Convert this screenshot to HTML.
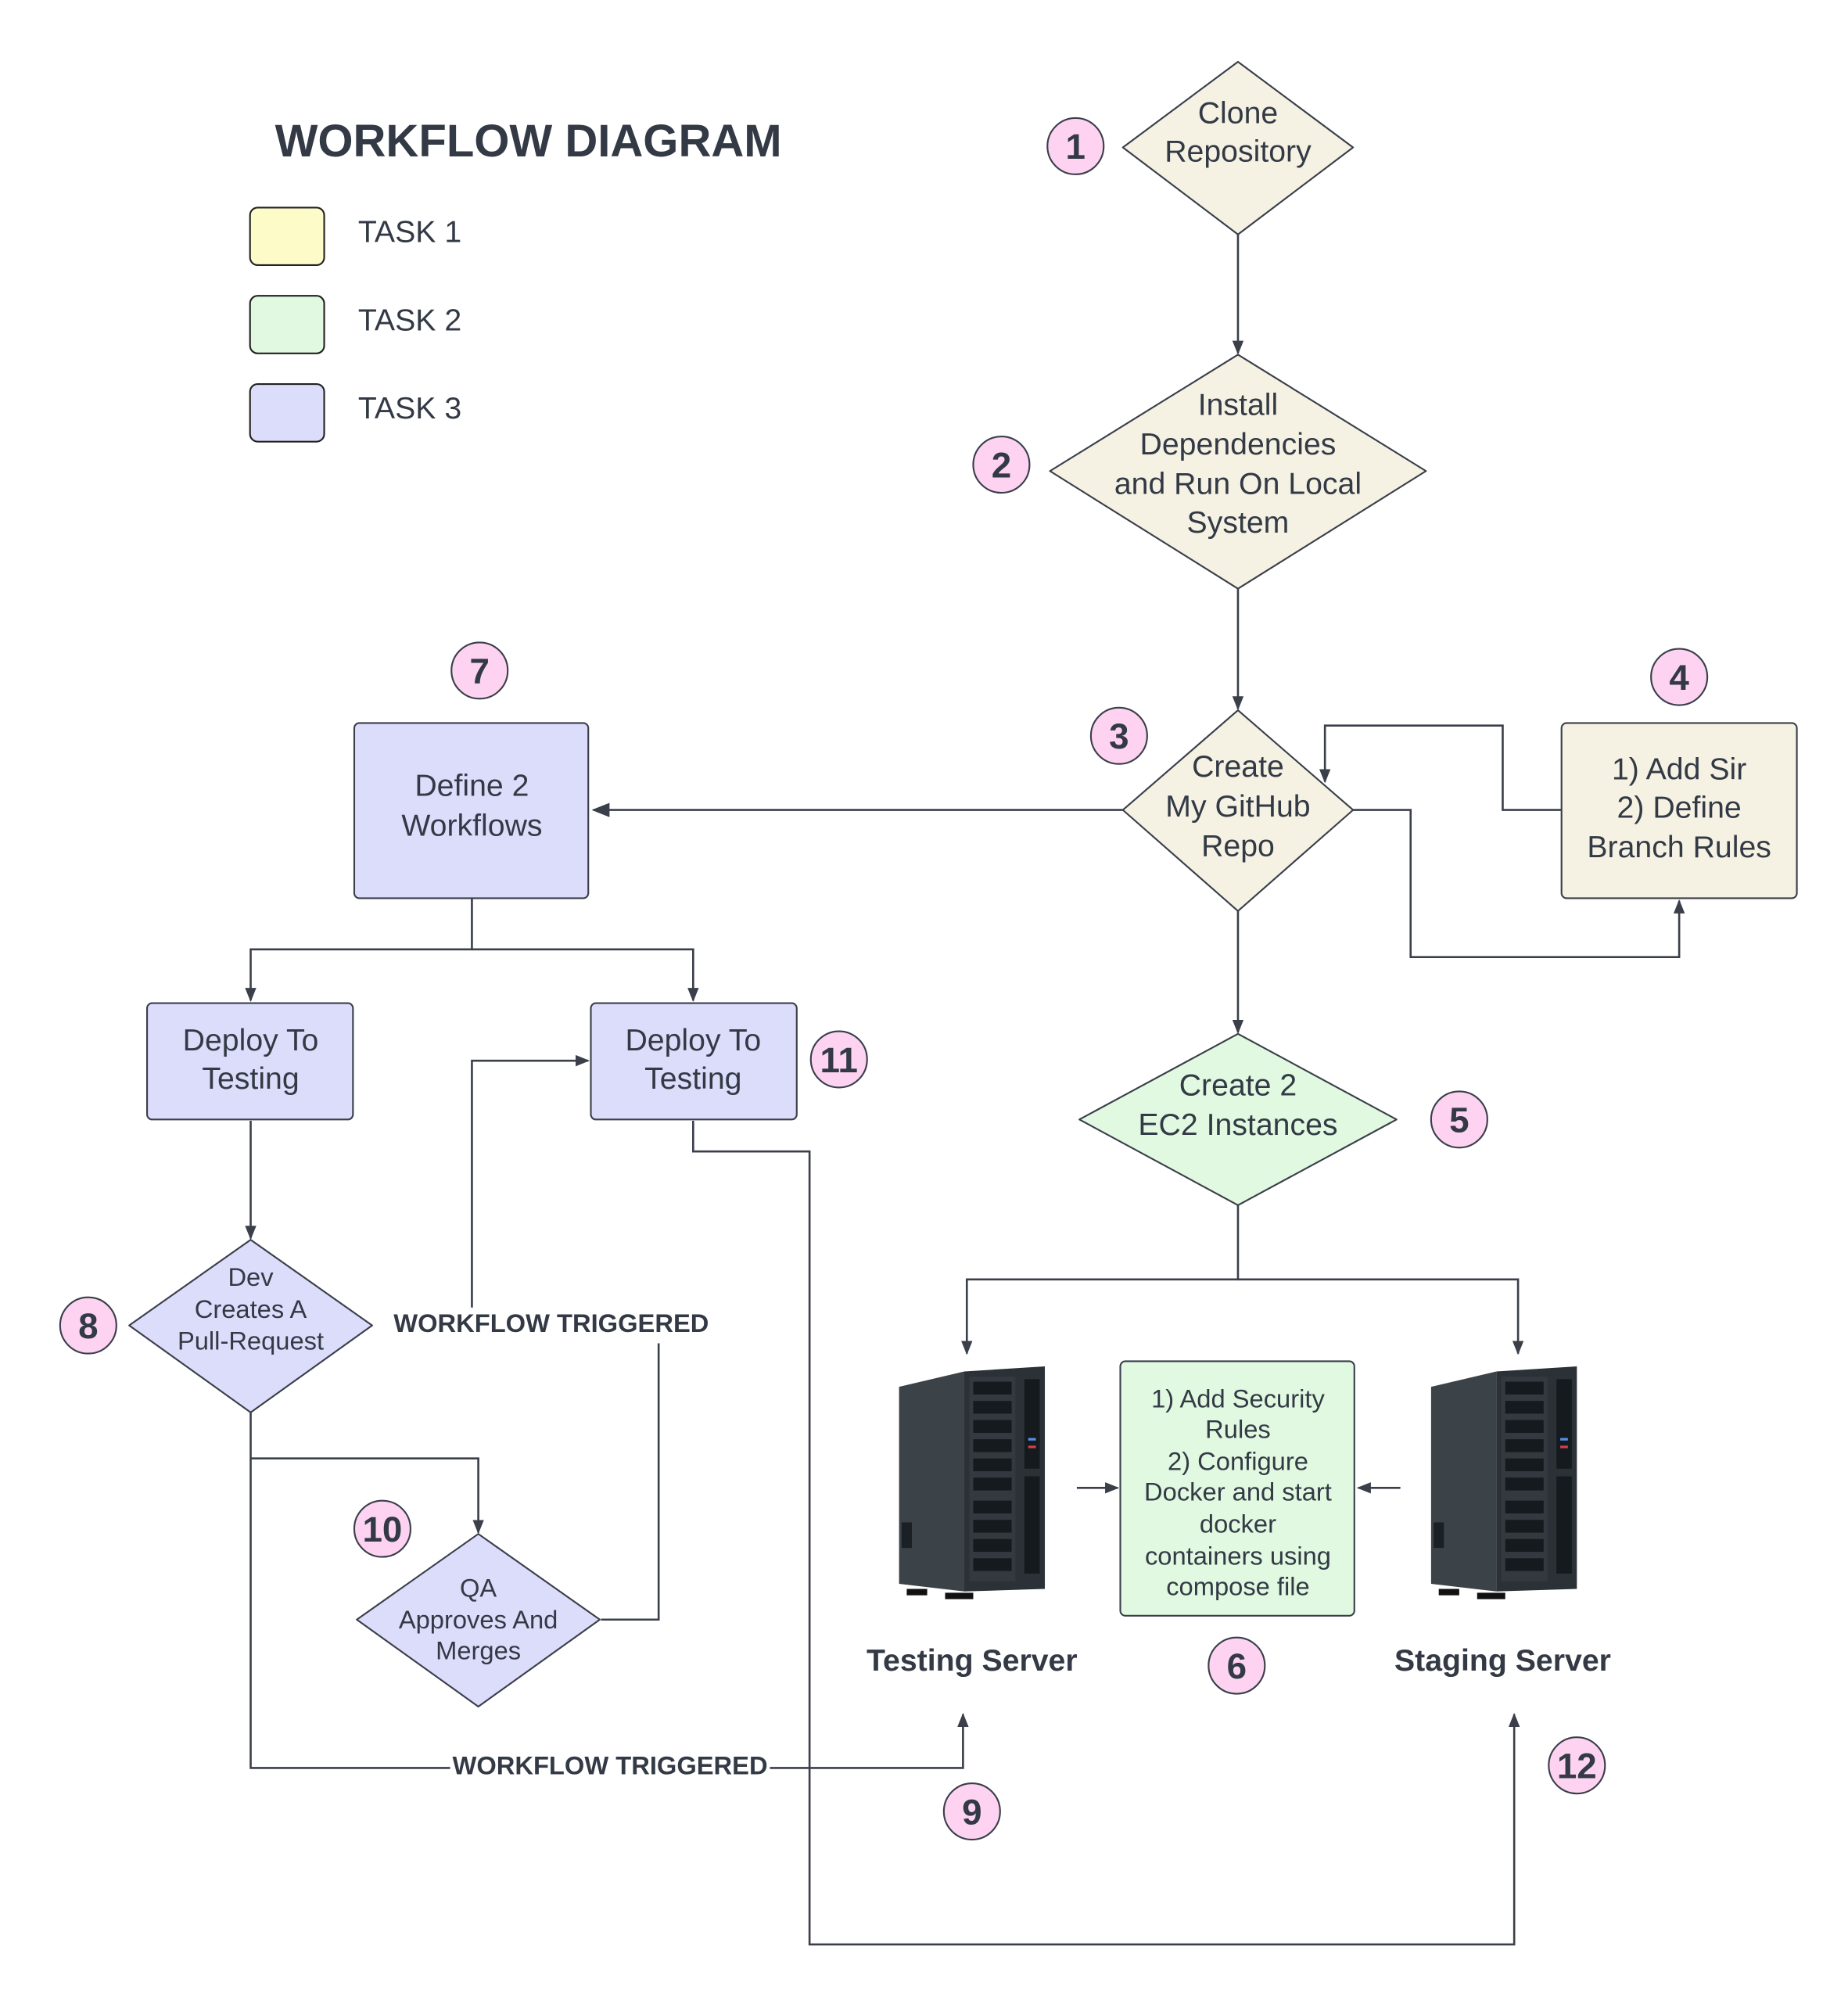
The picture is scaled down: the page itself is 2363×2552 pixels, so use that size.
<!DOCTYPE html>
<html><head><meta charset="utf-8"><style>
html,body{margin:0;padding:0;background:#fff}
svg{display:block}
text{font-family:"Liberation Sans",sans-serif;fill:#333a45}
</style></head><body>
<svg width="2363" height="2552" viewBox="0 0 1445 1560" xmlns="http://www.w3.org/2000/svg">
<defs>
<marker id="a" viewBox="0 0 10 10" refX="9" refY="5" markerWidth="11" markerHeight="11" orient="auto-start-reverse" markerUnits="userSpaceOnUse"><path d="M0,1 L10,5 L0,9 z" fill="#3a3f4a"/></marker>
<marker id="b" viewBox="0 0 10 10" refX="9" refY="5" markerWidth="14" markerHeight="14" orient="auto" markerUnits="userSpaceOnUse"><path d="M0,1 L10,5 L0,9 z" fill="#3a3f4a"/></marker>
<g id="srv">
<rect x="0" y="0" width="116" height="184" fill="#fff"/>
<polygon points="4,18 55,6 55,178 4,172" fill="#3b4349"/>
<polygon points="55,6 118,2 118,176 55,178" fill="#2b3136"/>
<rect x="59" y="10" width="36" height="160" fill="#33393e"/>
<g fill="#151a1e">
<rect x="62" y="14" width="30" height="10"/><rect x="62" y="29" width="30" height="10"/><rect x="62" y="44" width="30" height="10"/><rect x="62" y="59" width="30" height="10"/><rect x="62" y="74" width="30" height="10"/><rect x="62" y="89" width="30" height="10"/><rect x="62" y="107" width="30" height="10"/><rect x="62" y="122" width="30" height="10"/><rect x="62" y="137" width="30" height="10"/><rect x="62" y="152" width="30" height="10"/>
<rect x="102" y="12" width="12" height="70"/><rect x="102" y="88" width="12" height="76"/>
</g>
<rect x="105" y="58" width="6" height="2" fill="#5a8be8"/><rect x="105" y="64" width="6" height="2" fill="#d04050"/>
<rect x="6" y="124" width="8" height="20" fill="#1b2024"/>
<rect x="10" y="176" width="16" height="5" fill="#111"/><rect x="40" y="179" width="22" height="5" fill="#111"/>
</g>
</defs>

<text x="215" y="122" font-size="35.5" font-weight="bold">WORKFLOW DIAGRAM</text>
<rect x="195.5" y="162" width="58" height="45" rx="6" fill="#fdfcc8" stroke="#222" stroke-width="1.3"/>
<rect x="195.5" y="231" width="58" height="45" rx="6" fill="#e0f9e0" stroke="#222" stroke-width="1.3"/>
<rect x="195.5" y="300" width="58" height="45" rx="6" fill="#dcdcfb" stroke="#222" stroke-width="1.3"/>
<text x="280" y="189" font-size="24">TASK 1</text>
<text x="280" y="258" font-size="24">TASK 2</text>
<text x="280" y="327" font-size="24">TASK 3</text>

<g fill="none" stroke="#3a3f4a" stroke-width="1.6">
<path d="M968,183 V276" marker-end="url(#a)"/>
<path d="M968,460 V554" marker-end="url(#a)"/>
<path d="M878,633 H464" marker-end="url(#b)"/>
<path d="M1221,633 H1175 V567 H1036 V611" marker-end="url(#a)"/>
<path d="M1058,633 H1103 V748 H1313 V704" marker-end="url(#a)"/>
<path d="M968,712 V807" marker-end="url(#a)"/>
<path d="M369,702 V742 H196 V782" marker-end="url(#a)"/>
<path d="M369,742 H542 V782" marker-end="url(#a)"/>
<path d="M196,876 V968" marker-end="url(#a)"/>
<path d="M196,1104 V1382 H753 V1340" marker-end="url(#a)"/>
<path d="M196,1140 H374 V1198" marker-end="url(#a)"/>
<path d="M470,1266 H515 V1050"/>
<path d="M369,1022 V829 H460" marker-end="url(#a)"/>
<path d="M542,876 V900 H633 V1520 H1184 V1340" marker-end="url(#a)"/>
<path d="M968,942 V1000 H756 V1058" marker-end="url(#a)"/>
<path d="M968,1000 H1187 V1058" marker-end="url(#a)"/>
<path d="M842,1163 H874" marker-end="url(#a)"/>
<path d="M1095,1163 H1062" marker-end="url(#a)"/>
</g>

<g stroke="#3a3f4a" stroke-width="1.3" stroke-linejoin="round">
<polygon points="968,48 1058,115 968,183 878,115" fill="#f5f2e3"/>
<polygon points="968,277 1115,368 968,460 821,368" fill="#f5f2e3"/>
<polygon points="968,555 1058,633 968,712 878,633" fill="#f5f2e3"/>
<rect x="1221" y="565" width="184" height="137" rx="4" fill="#f5f2e3"/>
<rect x="277" y="565" width="183" height="137" rx="4" fill="#dcdcfb"/>
<rect x="115" y="784" width="161" height="91" rx="4" fill="#dcdcfb"/>
<rect x="462" y="784" width="161" height="91" rx="4" fill="#dcdcfb"/>
<polygon points="196,969 291,1036 196,1104 101,1036" fill="#dcdcfb"/>
<polygon points="374,1199 469,1266 374,1334 279,1266" fill="#dcdcfb"/>
<polygon points="968,808 1092,875 968,942 844,875" fill="#e0f9e0"/>
<rect x="876" y="1064" width="183" height="199" rx="4" fill="#e0f9e0"/>
</g>

<use href="#srv" x="699" y="1066"/>
<use href="#srv" x="1115" y="1066"/>

<g font-size="24" text-anchor="middle">
<text x="968" y="96">Clone</text><text x="968" y="126">Repository</text>
<text x="968" y="324">Install</text><text x="968" y="355">Dependencies</text><text x="968" y="386">and Run On Local</text><text x="968" y="416">System</text>
<text x="968" y="607">Create</text><text x="968" y="638">My GitHub</text><text x="968" y="669">Repo</text>
<text x="1313" y="609">1) Add Sir</text><text x="1313" y="639">2) Define</text><text x="1313" y="670">Branch Rules</text>
<text x="369" y="622">Define 2</text><text x="369" y="653">Workflows</text>
<text x="196" y="821">Deploy To</text><text x="196" y="851">Testing</text>
<text x="542" y="821">Deploy To</text><text x="542" y="851">Testing</text>
<text x="968" y="856">Create 2</text><text x="968" y="887">EC2 Instances</text>
</g>
<g font-size="20" text-anchor="middle">
<text x="196" y="1005">Dev</text><text x="196" y="1030">Creates A</text><text x="196" y="1055">Pull-Request</text>
<text x="374" y="1248">QA</text><text x="374" y="1273">Approves And</text><text x="374" y="1297">Merges</text>
<text x="968" y="1100">1) Add Security</text><text x="968" y="1124">Rules</text><text x="968" y="1149">2) Configure</text><text x="968" y="1173">Docker and start</text><text x="968" y="1198">docker</text><text x="968" y="1223">containers using</text><text x="968" y="1247">compose file</text>
</g>
<g font-size="24" font-weight="bold" text-anchor="middle">
<text x="760" y="1306">Testing Server</text>
<text x="1175" y="1306">Staging Server</text>
</g>
<rect x="352" y="1370" width="250" height="22" fill="#fff"/>
<rect x="306" y="1024" width="250" height="22" fill="#fff"/>
<g font-size="20" font-weight="bold" text-anchor="middle">
<text x="477" y="1387">WORKFLOW TRIGGERED</text>
<text x="431" y="1041">WORKFLOW TRIGGERED</text>
</g>

<g stroke="#3a3f4a" stroke-width="1.3" fill="#fdd3f1">
<circle cx="841" cy="114" r="22"/><circle cx="783" cy="363" r="22"/><circle cx="875" cy="575" r="22"/>
<circle cx="1313" cy="529" r="22"/><circle cx="375" cy="524" r="22"/><circle cx="1141" cy="875" r="22"/>
<circle cx="967" cy="1302" r="22"/><circle cx="69" cy="1036" r="22"/><circle cx="760" cy="1416" r="22"/>
<circle cx="299" cy="1195" r="22"/><circle cx="656" cy="828" r="22"/><circle cx="1233" cy="1380" r="22"/>
</g>
<g font-size="28" font-weight="bold" text-anchor="middle">
<text x="841" y="124">1</text><text x="783" y="373">2</text><text x="875" y="585">3</text>
<text x="1313" y="539">4</text><text x="375" y="534">7</text><text x="1141" y="885">5</text>
<text x="967" y="1312">6</text><text x="69" y="1046">8</text><text x="760" y="1426">9</text>
<text x="299" y="1205">10</text><text x="656" y="838">11</text><text x="1233" y="1390">12</text>
</g>
</svg>
</body></html>
